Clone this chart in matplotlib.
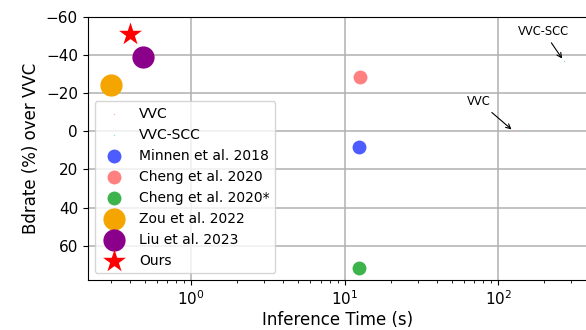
import matplotlib
matplotlib.use("Agg")
import matplotlib.pyplot as plt
import numpy as np

methods = ["VVC", "VVC-SCC", "Minnen et al. 2018", "Cheng et al. 2020",
           "Cheng et al. 2020*", "Zou et al. 2022", "Liu et al. 2023", "Ours"]
times = [126, 267, 12.4, 12.6, 12.4, 0.30, 0.487, 0.40]
bdrate = [0.0, -36.8, 8.4, -28.6, 71.4, -24.3, -38.8, -51.0]
colors = ["#f4b9a6", "#8fe0c8", "#4c5cff", "#ff8080", "#3cb44b", "#f5a500", "#8b008b", "#ff0000"]
markers = ["o", "o", "o", "o", "o", "o", "o", "*"]
sizes = [1, 1, 100, 100, 100, 256, 256, 300]

fig = plt.figure(figsize=(5.86, 3.3), dpi=100)
ax = fig.add_axes([0.1497, 0.1515, 0.8525, 0.7985])

for m, t, b, c, mk, s in zip(methods, times, bdrate, colors, markers, sizes):
    ax.scatter([t], [b], s=s, c=c, marker=mk, label=m, zorder=3, linewidths=0)

ax.set_xscale("log")
ax.set_xlim(10 ** -0.672, 10 ** 2.58)
ax.set_ylim(77.8, -60)
ax.set_yticks([-60, -40, -20, 0, 20, 40, 60])
ax.grid(True, which="major", color="#b0b0b0", linewidth=1.1)
ax.set_axisbelow(True)
ax.tick_params(axis="both", labelsize=11)

ax.set_xlabel("Inference Time (s)", fontsize=12, labelpad=2)
ax.set_ylabel("Bdrate (%) over VVC", fontsize=12)

ax.annotate("VVC", xy=(times[0], bdrate[0]), xytext=(75, -15.6),
            fontsize=8.3, ha="center", va="center",
            arrowprops=dict(arrowstyle="->", color="black", lw=0.8))
ax.annotate("VVC-SCC", xy=(times[1], bdrate[1]), xytext=(197, -52.3),
            fontsize=8.3, ha="center", va="center",
            arrowprops=dict(arrowstyle="->", color="black", lw=0.8))

ax.legend(loc="lower left", fontsize=10)

fig.savefig("out.png", dpi=100)
